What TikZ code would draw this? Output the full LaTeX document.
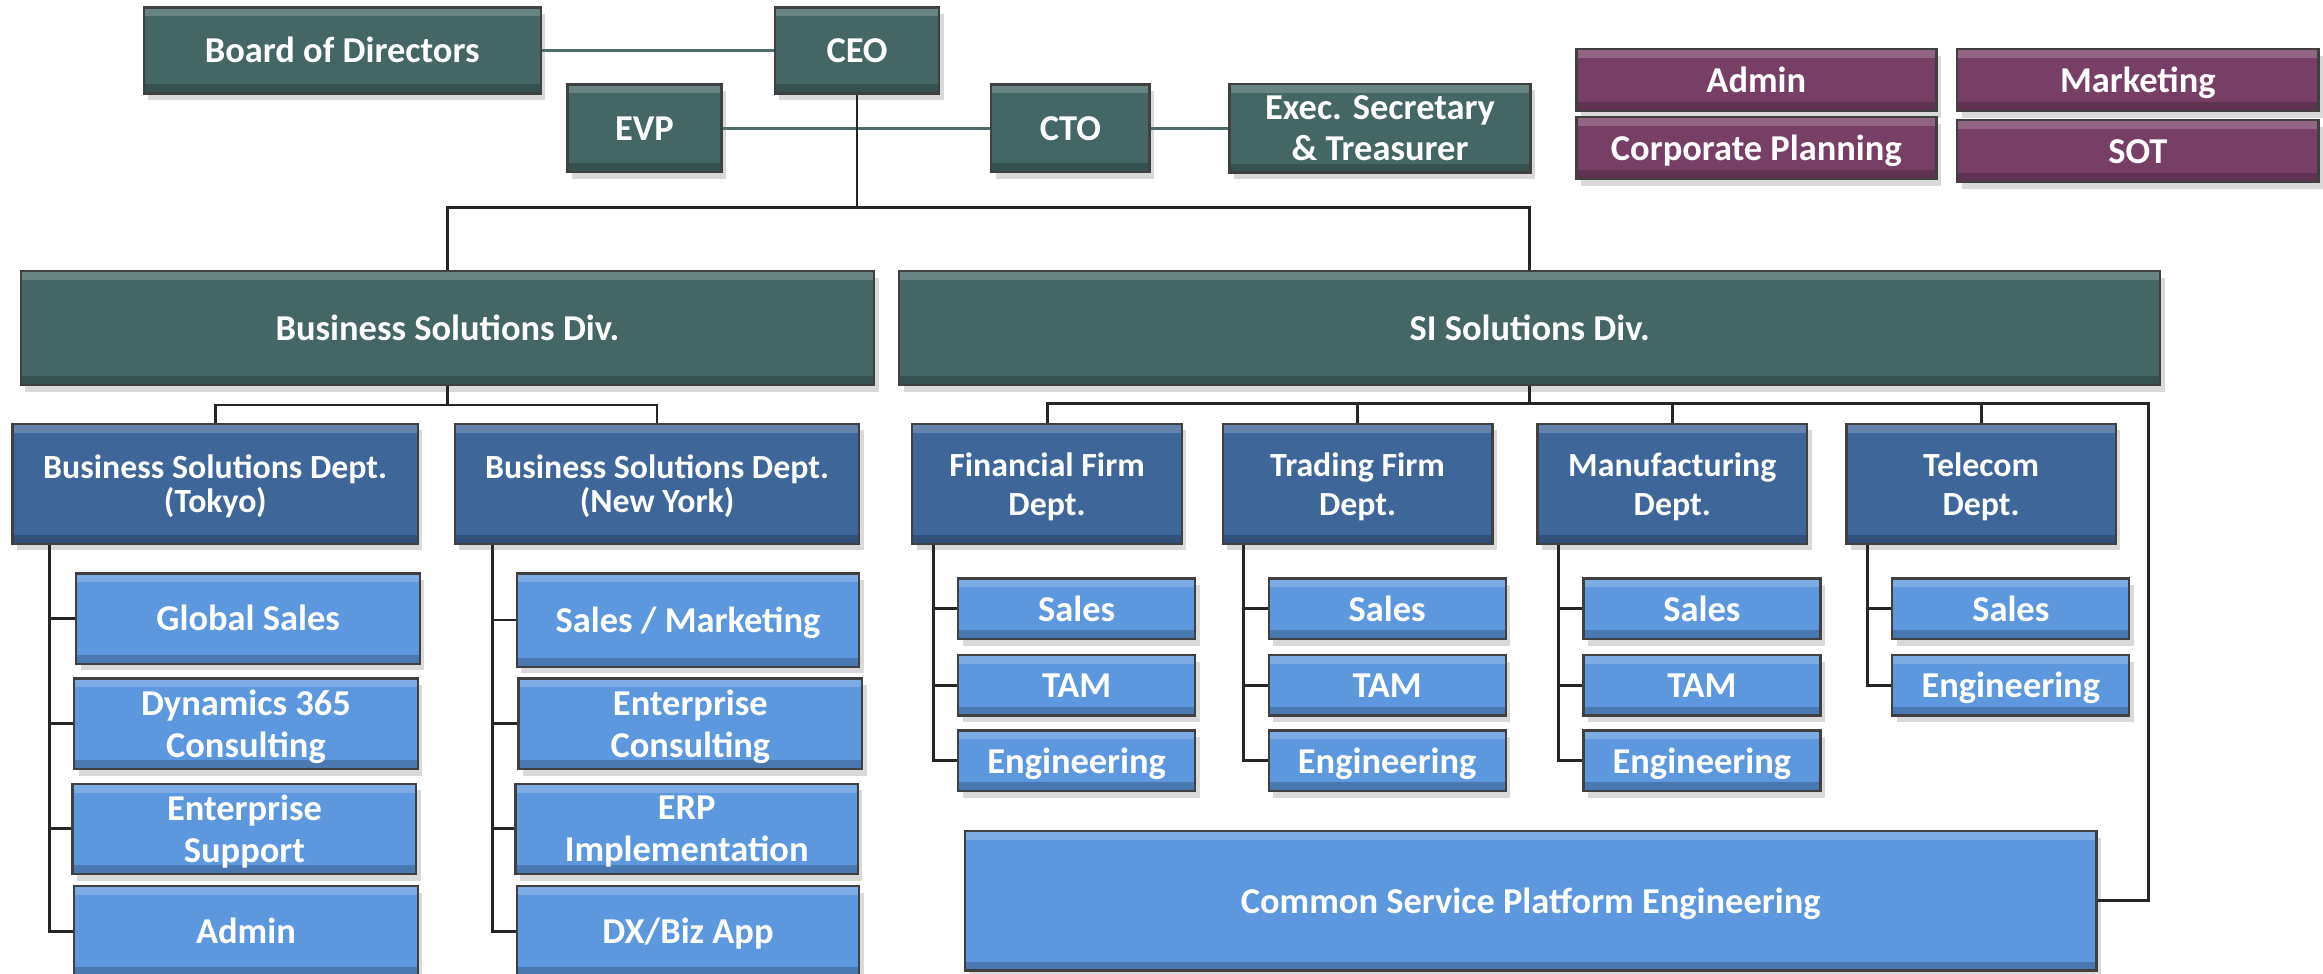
\documentclass[tikz,border=0pt]{standalone}
\usepackage{fontspec}
\setmainfont{Carlito}
\usetikzlibrary{shadows}
\definecolor{leadgreen}{HTML}{446765}
\definecolor{deptblue}{HTML}{3E6699}
\definecolor{unitblue}{HTML}{5D98DF}
\definecolor{staffplum}{HTML}{783F66}
\definecolor{linegreen}{HTML}{4E6E6C}
\tikzset{
	orgbox/.style={draw=black!75,line width=.9pt,text=white,align=center,inner sep=1pt,
		font=\bfseries\fontsize{14}{16}\selectfont,text height=1.04em,text depth=.1em,
		drop shadow={shadow xshift=.6mm,shadow yshift=-.9mm,opacity=.3},
		path picture={
			\fill[white,opacity=.2] (path picture bounding box.north west) rectangle ([yshift=-.12cm]path picture bounding box.north east);
			\fill[black,opacity=.2] (path picture bounding box.south west) rectangle ([yshift=.12cm]path picture bounding box.south east);
		}},
	twoline/.style={text height=,text depth=-.08em},
	wh/.style 2 args={minimum width=#1*.02cm,minimum height=#2*.02cm},
	lead/.style={orgbox,fill=leadgreen},
	dept/.style={orgbox,twoline,fill=deptblue,font=\bfseries\fontsize{13}{15}\selectfont},
	unit/.style={orgbox,fill=unitblue},
	staff/.style={orgbox,fill=staffplum},
	link/.style={line width=1.1pt,draw=black!85},
	toplink/.style={line width=1.1pt,draw=linegreen}
}
\begin{document}
\begin{tikzpicture}[x=.02cm,y=-.02cm]
	\useasboundingbox (0,0) rectangle (1568,657);
	% top management
	\node[lead,wh={268}{58}] (board) at (231,34) {Board of Directors};
	\node[lead,wh={111}{58}] (ceo) at (578.5,34) {CEO};
	\node[lead,wh={104}{59}] (evp) at (435,86.5) {EVP};
	\node[lead,wh={107}{59}] (cto) at (722.5,86.5) {CTO};
	\node[lead,twoline,wh={203}{60}] (execsec) at (931.5,86.5) {Exec. Secretary\\\& Treasurer};
	\draw[toplink] (board) -- (ceo);
	\draw[toplink] (evp) -- (cto);
	\draw[toplink] (cto) -- (execsec);
	% staff
	\node[staff,wh={243}{42}] (admin) at (1185.5,54) {Admin};
	\node[staff,wh={244}{42}] (marketing) at (1443,54) {Marketing};
	\node[staff,wh={243}{42}] (corpplan) at (1185.5,100) {Corporate Planning};
	\node[staff,wh={244}{42}] (sot) at (1443,102) {SOT};
	% divisions
	\node[lead,wh={576}{77}] (bsd) at (302,221.5) {Business Solutions Div.};
	\node[lead,wh={851}{77}] (sisd) at (1032.5,221.5) {SI Solutions Div.};
	\draw[link] (ceo.south) -- ++(0,76.5) coordinate (hub);
	\draw[link] (bsd.north) |- (hub) -| (sisd.north);
	% business solutions
	\node[dept,wh={273.5}{81}] (tokyo) at (145.25,326.5) {Business Solutions Dept.\\[-2pt](Tokyo)};
	\node[dept,wh={273}{81}] (ny) at (443.5,326.5) {Business Solutions Dept.\\[-2pt](New York)};
	\draw[link] (bsd.south) -- ++(0,12.6) coordinate (bsdhub);
	\draw[link] (tokyo.north) |- (bsdhub) -| (ny.north);
	\node[unit,wh={232}{61}] (gsales) at (167.5,417.5) {Global Sales};
	\node[unit,twoline,wh={232}{61}] (dyn) at (166,488.5) {Dynamics 365\\Consulting};
	\node[unit,twoline,wh={232}{61}] (esup) at (165,559.5) {Enterprise\\Support};
	\node[unit,wh={232}{61}] (tadmin) at (166,628.5) {Admin};
	\node[unit,wh={231}{63}] (salesmkt) at (464.4,418.5) {Sales / Marketing};
	\node[unit,twoline,wh={232}{61}] (econs) at (466,488.5) {Enterprise\\Consulting};
	\node[unit,twoline,wh={231}{61}] (erp) at (463.5,559.5) {ERP\\Implementation};
	\node[unit,wh={231}{61}] (dxbiz) at (464.4,628.5) {DX/Biz App};
	\coordinate (tkstem) at ([xshift=.51cm]tokyo.south west);
	\coordinate (nystem) at ([xshift=.52cm]ny.south west);
	\foreach \c in {gsales,dyn,esup,tadmin}
		\draw[link] (tkstem) |- (\c.west);
	\foreach \c in {salesmkt,econs,erp,dxbiz}
		\draw[link] (nystem) |- (\c.west);
	% SI solutions
	\foreach \d/\x/\t in {fin/706.75/Financial Firm\\Dept.,trad/916.35/Trading Firm\\Dept.,manu/1128.75/Manufacturing\\Dept.,tele/1337.25/Telecom\\Dept.}
		\node[dept,wh={182}{81}] (\d) at (\x,326.5) {\t};
	\node[unit,wh={764}{94}] (cspe) at (1033.2,608) {Common Service Platform Engineering};
	\draw[link] (sisd.south) -- ++(0,12.6) coordinate (sihub);
	\coordinate (sicorner) at (1450,272.6);
	\draw[link] (fin.north) |- (sicorner) |- (cspe.east);
	\foreach \d in {trad,manu,tele}
		\draw[link] (\d.north) -- (\d.north |- sihub);
	\foreach \d/\x in {fin/706.75,trad/916.35,manu/1128.75,tele/1337.25}
		\node[unit,wh={160}{41}] (\d-sales) at (\x+20,411) {Sales};
	\foreach \d/\x in {fin/706.75,trad/916.35,manu/1128.75} {
		\node[unit,wh={160}{41}] (\d-tam) at (\x+20,462.5) {TAM};
		\node[unit,wh={160}{41}] (\d-eng) at (\x+20,513.5) {Engineering};
	}
	\node[unit,wh={160}{41}] (tele-eng) at (1357.25,462.5) {Engineering};
	\foreach \d in {fin,trad,manu}
		\foreach \c in {sales,tam,eng}
			\draw[link] ([xshift=.3cm]\d.south west) |- (\d-\c.west);
	\foreach \c in {sales,eng}
		\draw[link] ([xshift=.3cm]tele.south west) |- (tele-\c.west);
\end{tikzpicture}
\end{document}
